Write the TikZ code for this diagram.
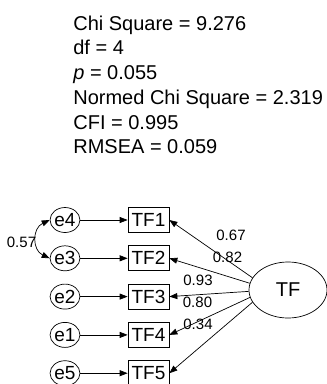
\documentclass[tikz,border=0pt]{standalone}
\usepackage{fontspec}
\setmainfont{Liberation Sans}
\usetikzlibrary{arrows.meta,shapes.geometric}
\begin{document}
\begin{tikzpicture}[x=1pt,y=-1pt,
  line width=0.7pt,
  fit/.style={anchor=base west,inner sep=0,font=\fontsize{20}{24}\selectfont},
  evar/.style={draw,ellipse,minimum width=28,minimum height=25,inner sep=0,font=\fontsize{19}{22}\selectfont},
  obs/.style={draw,rectangle,minimum width=41,minimum height=25,inner sep=0,font=\fontsize{19}{22}\selectfont},
  latent/.style={draw,ellipse,minimum width=78,minimum height=56,inner sep=0,font=\fontsize{20}{24}\selectfont},
  coef/.style={inner sep=0,font=\fontsize{15}{18}\selectfont},
  path/.style={-{Triangle[length=8,width=6]}},
]
\useasboundingbox (0,0) rectangle (327,384);

% fit indices
\node[fit] (chi)  at (73,30.2)  {Chi Square = 9.276};
\node[fit] (df)   at (73,54.9)  {df = 4};
\node[fit] (pv)   at (73,79.7)  {\textit{p} = 0.055};
\node[fit] (nchi) at (73,104.4) {Normed Chi Square = 2.319};
\node[fit] (cfi)  at (73,129.2) {CFI = 0.995};
\node[fit] (rmsea) at (73,153.9) {RMSEA = 0.059};

% error terms
\node[evar] (e4) at (65,220)   {e4};
\node[evar] (e3) at (65,258.3) {e3};
\node[evar] (e2) at (65,296.6) {e2};
\node[evar] (e1) at (65,334.9) {e1};
\node[evar] (e5) at (65,373.2) {e5};

% observed indicators
\node[obs] (TF1) at (148.5,220)   {TF1};
\node[obs] (TF2) at (148.5,258.3) {TF2};
\node[obs] (TF3) at (148.5,296.6) {TF3};
\node[obs] (TF4) at (148.5,334.9) {TF4};
\node[obs] (TF5) at (148.5,373.2) {TF5};

% latent factor
\node[latent] (TF) at (288,290) {TF};

% error paths
\foreach \e/\t in {e4/TF1,e3/TF2,e2/TF3,e1/TF4,e5/TF5}
  \draw[path] (\e) -- (\t);

% error covariance
\draw[{Triangle[length=8,width=6]}-{Triangle[length=8,width=6]}]
  (e4.west) to[out=205,in=155,looseness=1.3] (e3.west);
\node[coef] (c57) at (21.5,242) {0.57};

% factor loadings
\draw[path] (TF.161) -- (TF1.east);
\draw[path] (TF.170) -- (TF2.east);
\draw[path] (TF.182) -- (TF3.east);
\draw[path] (TF.191) -- (TF4.east);
\draw[path] (TF.199) -- (TF5.east);

\node[coef] (l1) at (231,235)   {0.67};
\node[coef] (l2) at (227.5,257) {0.82};
\node[coef] (l3) at (198,280)   {0.93};
\node[coef] (l4) at (197.5,302.5) {0.80};
\node[coef] (l5) at (198,324)   {0.34};
\end{tikzpicture}
\end{document}
